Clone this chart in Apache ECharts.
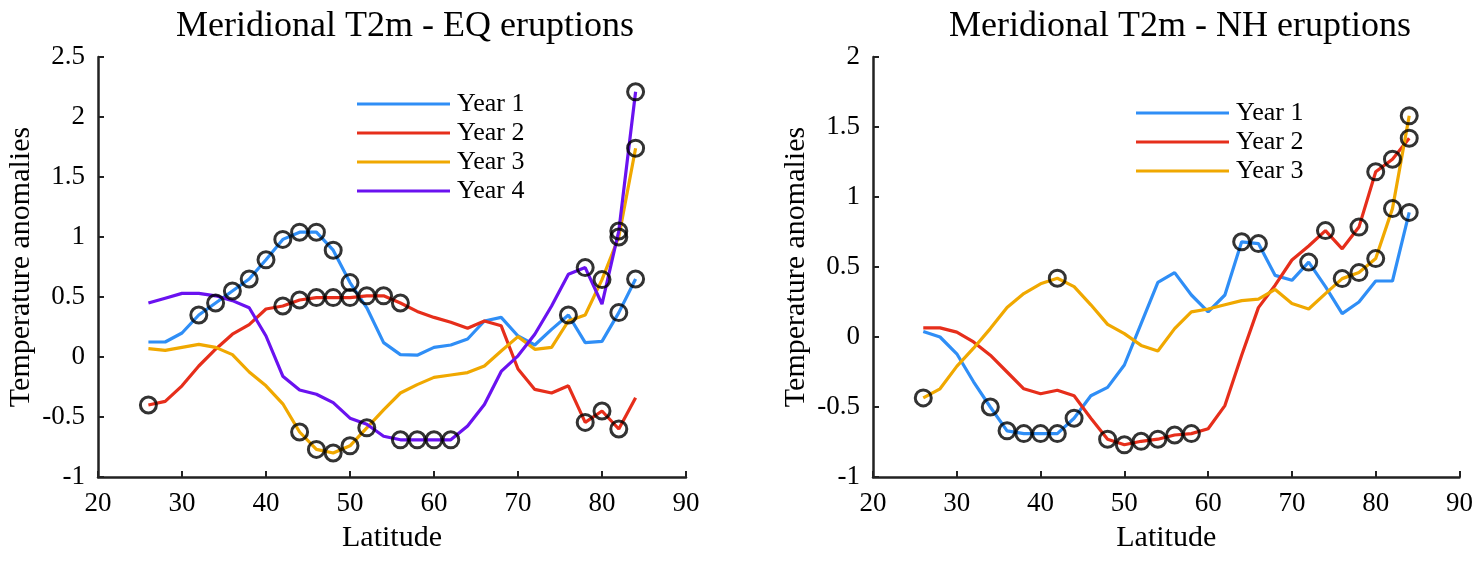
<!DOCTYPE html>
<html>
<head>
<meta charset="utf-8">
<title>Meridional T2m</title>
<script src="https://cdn.jsdelivr.net/npm/echarts@6/dist/echarts.min.js"></script>
<style>
    html, body { margin: 0; padding: 0; background: #fff; }
    #chartmain { width: 1476px; height: 562px; }
</style>
</head>
<body>
<div id="chartmain"></div>
<script>
// latitudes (2 degree steps)
var lats = [26, 28, 30, 32, 34, 36, 38, 40, 42, 44, 46, 48, 50, 52, 54, 56, 58, 60,
    62, 64, 66, 68, 70, 72, 74, 76, 78, 80, 82, 84];

// EQ eruptions
var eqYear1 = [0.125, 0.125, 0.2, 0.35, 0.45, 0.55, 0.65, 0.81, 0.98, 1.04, 1.04, 0.89, 0.62, 0.41, 0.12,
    0.02, 0.015, 0.08, 0.1, 0.15, 0.3, 0.33, 0.175, 0.1, 0.23, 0.35, 0.12, 0.13, 0.37, 0.65];
var eqYear2 = [-0.4, -0.37, -0.24, -0.075, 0.065, 0.19, 0.27, 0.4, 0.425, 0.475, 0.495, 0.495, 0.495, 0.51, 0.51,
    0.45, 0.38, 0.33, 0.29, 0.24, 0.3, 0.26, -0.1, -0.27, -0.3, -0.24, -0.545, -0.45, -0.6, -0.34];
var eqYear3 = [0.07, 0.055, 0.08, 0.105, 0.08, 0.02, -0.125, -0.24, -0.39, -0.625, -0.77, -0.8, -0.74, -0.59, -0.44,
    -0.3, -0.23, -0.17, -0.15, -0.13, -0.075, 0.05, 0.17, 0.064, 0.08, 0.3, 0.35, 0.645, 1.0, 1.74];
var eqYear4 = [0.45, 0.49, 0.53, 0.53, 0.51, 0.47, 0.41, 0.175, -0.16, -0.275, -0.31, -0.38, -0.51, -0.56, -0.66,
    -0.69, -0.69, -0.69, -0.69, -0.575, -0.395, -0.12, 0.01, 0.19, 0.425, 0.69, 0.745, 0.44, 1.05, 2.21];
// latitudes marked with circles
var eqSig1 = [32, 34, 36, 38, 40, 42, 44, 46, 48, 50, 76, 82, 84];
var eqSig2 = [26, 42, 44, 46, 48, 50, 52, 54, 56, 78, 80, 82];
var eqSig3 = [44, 46, 48, 50, 52, 80, 82, 84];
var eqSig4 = [56, 58, 60, 62, 78, 82, 84];

// NH eruptions
var nhYear1 = [0.04, 0.0, -0.12, -0.32, -0.5, -0.67, -0.69, -0.69, -0.69, -0.58, -0.42, -0.36, -0.2, 0.095, 0.39,
    0.46, 0.3, 0.18, 0.3, 0.68, 0.667, 0.44, 0.405, 0.535, 0.36, 0.167, 0.25, 0.4, 0.4, 0.89];
var nhYear2 = [0.065, 0.065, 0.035, -0.035, -0.13, -0.25, -0.37, -0.405, -0.38, -0.42, -0.58, -0.73, -0.77, -0.745, -0.73,
    -0.7, -0.69, -0.655, -0.49, -0.13, 0.21, 0.37, 0.55, 0.65, 0.76, 0.63, 0.785, 1.18, 1.27, 1.42];
var nhYear3 = [-0.435, -0.37, -0.21, -0.08, 0.06, 0.21, 0.31, 0.38, 0.42, 0.36, 0.23, 0.09, 0.024, -0.06, -0.1,
    0.06, 0.18, 0.2, 0.23, 0.26, 0.27, 0.34, 0.24, 0.2, 0.31, 0.417, 0.46, 0.56, 0.917, 1.58];
var nhSig1 = [34, 36, 38, 40, 42, 44, 64, 66, 72, 84];
var nhSig2 = [48, 50, 52, 54, 56, 58, 74, 78, 80, 82, 84];
var nhSig3 = [26, 42, 76, 78, 80, 82, 84];

var xTicks = [20, 90, 10];
var eqYTicks = [-1, 2.5, 0.5];
var nhYTicks = [-1, 2, 0.5];

var colors = ['#2f8ef6', '#e62e1b', '#f0a800', '#6a12f0'];
var font = 'Liberation Serif, Times New Roman, serif';

function pairs(vals) {
    var out = [];
    for (var i = 0; i < lats.length; i++) out.push([lats[i], vals[i]]);
    return out;
}
function sigPoints(vals, sig) {
    var out = [];
    for (var i = 0; i < sig.length; i++) {
        var k = lats.indexOf(sig[i]);
        out.push([sig[i], vals[k]]);
    }
    return out;
}
function lineSeries(name, vals, idx, color) {
    return {
        name: name, type: 'line', xAxisIndex: idx, yAxisIndex: idx,
        data: pairs(vals), symbol: 'none', color: color,
        lineStyle: {width: 3.2, color: color}, z: 2
    };
}
function circleSeries(vals, sig, idx) {
    return {
        name: 'sig', type: 'scatter', xAxisIndex: idx, yAxisIndex: idx,
        data: sigPoints(vals, sig), symbol: 'circle', symbolSize: 16,
        itemStyle: {color: 'rgba(0,0,0,0)', borderColor: '#000', borderWidth: 3},
        z: 5, silent: true
    };
}
function xAxisOpt(idx) {
    return {
        type: 'value', gridIndex: idx, min: xTicks[0], max: xTicks[1], interval: xTicks[2],
        name: 'Latitude', nameLocation: 'middle', nameGap: 46,
        nameTextStyle: {fontFamily: font, fontSize: 30, color: '#000'},
        axisLine: {onZero: false, lineStyle: {color: '#222', width: 2.5}},
        axisTick: {inside: true, length: 6, lineStyle: {color: '#222', width: 2}},
        axisLabel: {fontFamily: font, fontSize: 27, color: '#000', margin: 13},
        splitLine: {show: false}
    };
}
function yAxisOpt(idx, t) {
    return {
        type: 'value', gridIndex: idx, min: t[0], max: t[1], interval: t[2],
        name: 'Temperature anomalies', nameLocation: 'middle', nameGap: 62,
        nameTextStyle: {fontFamily: font, fontSize: 30, color: '#000'},
        axisLine: {show: true, onZero: false, lineStyle: {color: '#222', width: 2.5}},
        axisTick: {show: true, inside: true, length: 6, lineStyle: {color: '#222', width: 2}},
        axisLabel: {fontFamily: font, fontSize: 27, color: '#000', margin: 13},
        splitLine: {show: false}
    };
}

var option = {
    backgroundColor: '#fff',
    animation: false,
    title: [
        {text: 'Meridional T2m - EQ eruptions', left: 400, top: 4, textAlign: 'center',
            textStyle: {fontFamily: font, fontSize: 36, fontWeight: 'normal', color: '#000'}},
        {text: 'Meridional T2m - NH eruptions', left: 1175, top: 4, textAlign: 'center',
            textStyle: {fontFamily: font, fontSize: 36, fontWeight: 'normal', color: '#000'}}
    ],
    legend: [
        {data: ['Year 1', 'Year 2', 'Year 3', 'Year 4'], orient: 'vertical', left: 352, top: 86,
            icon: 'rect', itemWidth: 93, itemHeight: 3, itemGap: 3,
            textStyle: {fontFamily: font, fontSize: 26, color: '#000', lineHeight: 26, padding: [0, 0, 0, 2]}},
        {data: ['Year 1', 'Year 2', 'Year 3'], orient: 'vertical', left: 1131, top: 95,
            icon: 'rect', itemWidth: 93, itemHeight: 3, itemGap: 3,
            textStyle: {fontFamily: font, fontSize: 26, color: '#000', lineHeight: 26, padding: [0, 0, 0, 2]}}
    ],
    grid: [
        {left: 98, top: 57, width: 588, height: 420},
        {left: 873, top: 57, width: 588, height: 420}
    ],
    xAxis: [xAxisOpt(0), xAxisOpt(1)],
    yAxis: [yAxisOpt(0, eqYTicks), yAxisOpt(1, nhYTicks)],
    series: [
        lineSeries('Year 1', eqYear1, 0, colors[0]),
        lineSeries('Year 2', eqYear2, 0, colors[1]),
        lineSeries('Year 3', eqYear3, 0, colors[2]),
        lineSeries('Year 4', eqYear4, 0, colors[3]),
        circleSeries(eqYear1, eqSig1, 0),
        circleSeries(eqYear2, eqSig2, 0),
        circleSeries(eqYear3, eqSig3, 0),
        circleSeries(eqYear4, eqSig4, 0),
        lineSeries('Year 1', nhYear1, 1, colors[0]),
        lineSeries('Year 2', nhYear2, 1, colors[1]),
        lineSeries('Year 3', nhYear3, 1, colors[2]),
        circleSeries(nhYear1, nhSig1, 1),
        circleSeries(nhYear2, nhSig2, 1),
        circleSeries(nhYear3, nhSig3, 1)
    ]
};

var myChart = echarts.init(document.getElementById('chartmain'));
myChart.setOption(option);
</script>
</body>
</html>
